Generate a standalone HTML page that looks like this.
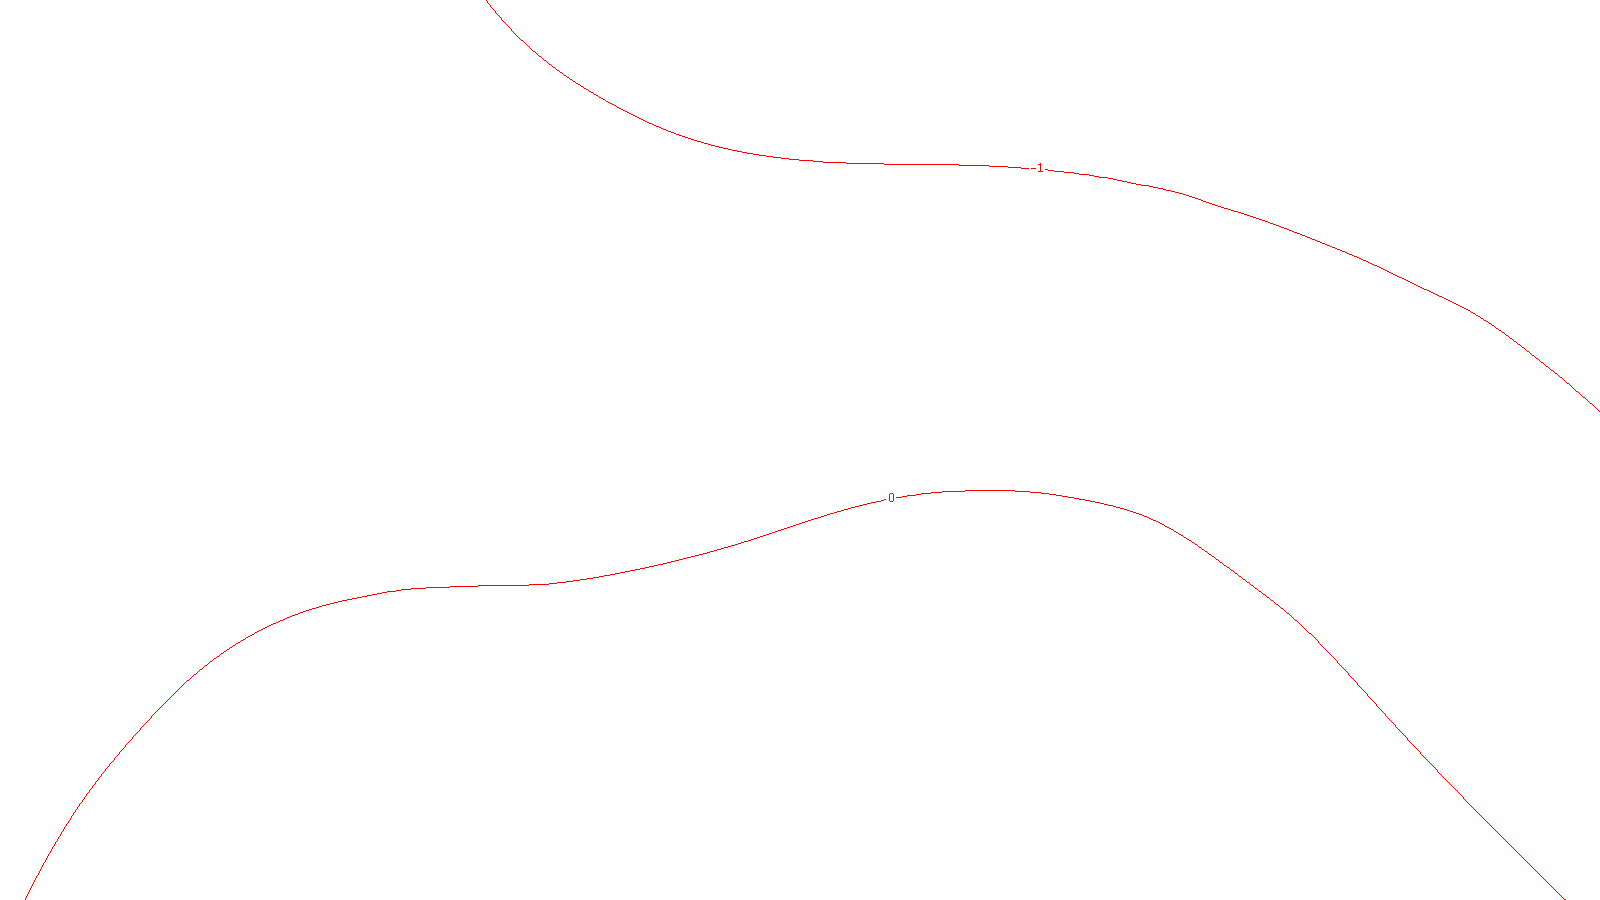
<!DOCTYPE html>
<html><head><meta charset="utf-8"><title>contour</title>
<style>
html,body{margin:0;padding:0;background:#fff;overflow:hidden}
svg{display:block}
text{font-family:"Liberation Sans",sans-serif;font-size:12px;fill:#f00}
</style></head><body>
<svg width="1600" height="900" viewBox="0 0 1600 900">
<defs><filter id="crisp" filterUnits="userSpaceOnUse" x="0" y="0" width="1600" height="900" color-interpolation-filters="sRGB"><feComponentTransfer><feFuncA type="discrete" tableValues="0 1"/></feComponentTransfer></filter></defs>
<rect width="1600" height="900" fill="#fff"/>
<g fill="none" stroke="#f00" stroke-width="1" shape-rendering="crispEdges">
<path d="M486.5 0 v1M487.5 1 v2M488.5 3 v1M489.5 4 v1M490.5 5 v2M491.5 7 v1M492.5 8 v1M493.5 9 v1M494.5 10 v1M495.5 11 v2M496.5 13 v1M497.5 14 v1M498.5 15 v1M499.5 16 v1M500.5 17 v1M501.5 18 v2M502.5 20 v1M503.5 21 v1M504.5 22 v1M505.5 23 v1M506.5 24 v1M507.5 25 v1M508.5 26 v1M509.5 27 v1M510.5 28 v1M511.5 29 v2M512.5 31 v1M513.5 32 v1M514.5 33 v1M515.5 34 v1M516.5 35 v1M517.5 36 v1M518.5 37 v1M519.5 38 v1M520.5 39 v1M521 40.5 h2M523.5 41 v1M524.5 42 v1M525.5 43 v1M526.5 44 v1M527.5 45 v1M528.5 46 v1M529.5 47 v1M530.5 48 v1M531.5 49 v1M532.5 50 v1M533 51.5 h2M535.5 52 v1M536.5 53 v1M537.5 54 v1M538.5 55 v1M539 56.5 h2M541.5 57 v1M542.5 58 v1M543.5 59 v1M544 60.5 h2M546.5 61 v1M547.5 62 v1M548.5 63 v1M549 64.5 h2M551.5 65 v1M552.5 66 v1M553 67.5 h2M555.5 68 v1M556.5 69 v1M557 70.5 h2M559.5 71 v1M560 72.5 h2M562.5 73 v1M563.5 74 v1M564 75.5 h2M566.5 76 v1M567 77.5 h2M569.5 78 v1M570 79.5 h2M572.5 80 v1M573 81.5 h2M575.5 82 v1M576 83.5 h2M578 84.5 h2M580.5 85 v1M581 86.5 h2M583.5 87 v1M584 88.5 h2M586 89.5 h2M588.5 90 v1M589 91.5 h2M591 92.5 h2M593.5 93 v1M594 94.5 h2M596 95.5 h2M598.5 96 v1M599 97.5 h2M601 98.5 h2M603 99.5 h2M605.5 100 v1M606 101.5 h2M608 102.5 h2M610 103.5 h2M612 104.5 h2M614 105.5 h2M616.5 106 v1M617 107.5 h2M619 108.5 h2M621 109.5 h2M623 110.5 h2M625 111.5 h2M627 112.5 h2M629 113.5 h2M631 114.5 h2M633 115.5 h2M635 116.5 h2M637 117.5 h2M639 118.5 h2M641 119.5 h2M643 120.5 h2M645 121.5 h2M647 122.5 h2M649 123.5 h3M652 124.5 h2M654 125.5 h2M656 126.5 h3M659 127.5 h2M661 128.5 h2M663 129.5 h3M666 130.5 h2M668 131.5 h3M671 132.5 h3M674 133.5 h2M676 134.5 h3M679 135.5 h3M682 136.5 h3M685 137.5 h3M688 138.5 h3M691 139.5 h3M694 140.5 h3M697 141.5 h4M701 142.5 h3M704 143.5 h4M708 144.5 h3M711 145.5 h4M715 146.5 h4M719 147.5 h4M723 148.5 h5M728 149.5 h4M732 150.5 h5M737 151.5 h5M742 152.5 h5M747 153.5 h6M753 154.5 h6M759 155.5 h7M766 156.5 h7M773 157.5 h8M781 158.5 h8M789 159.5 h10M799 160.5 h14M813 161.5 h10M823 162.5 h23M846 163.5 h38M884 164.5 h75M959 165.5 h30M989 166.5 h19M1008 167.5 h13M1021 168.5 h8M1045 169.5 h3M1048 170.5 h6M1054 171.5 h10M1064 172.5 h10M1074 173.5 h5M1079 174.5 h10M1089 175.5 h5M1094 176.5 h5M1099 177.5 h9M1108 178.5 h5M1113 179.5 h4M1117 180.5 h5M1122 181.5 h5M1127 182.5 h4M1131 183.5 h5M1136 184.5 h5M1141 185.5 h8M1149 186.5 h4M1153 187.5 h5M1158 188.5 h5M1163 189.5 h3M1166 190.5 h5M1171 191.5 h4M1175 192.5 h4M1179 193.5 h4M1183 194.5 h3M1186 195.5 h3M1189 196.5 h3M1192 197.5 h3M1195 198.5 h3M1198 199.5 h3M1201 200.5 h2M1203 201.5 h3M1206 202.5 h3M1209 203.5 h3M1212 204.5 h3M1215 205.5 h3M1218 206.5 h3M1221 207.5 h3M1224 208.5 h4M1228 209.5 h3M1231 210.5 h3M1234 211.5 h4M1238 212.5 h3M1241 213.5 h3M1244 214.5 h3M1247 215.5 h3M1250 216.5 h3M1253 217.5 h3M1256 218.5 h3M1259 219.5 h3M1262 220.5 h3M1265 221.5 h3M1268 222.5 h2M1270 223.5 h3M1273 224.5 h3M1276 225.5 h3M1279 226.5 h2M1281 227.5 h3M1284 228.5 h3M1287 229.5 h2M1289 230.5 h3M1292 231.5 h2M1294 232.5 h3M1297 233.5 h3M1300 234.5 h2M1302 235.5 h3M1305 236.5 h2M1307 237.5 h3M1310 238.5 h2M1312 239.5 h3M1315 240.5 h2M1317 241.5 h3M1320 242.5 h2M1322 243.5 h3M1325 244.5 h2M1327 245.5 h3M1330 246.5 h2M1332 247.5 h3M1335 248.5 h2M1337 249.5 h3M1340 250.5 h2M1342 251.5 h3M1345 252.5 h2M1347 253.5 h2M1349 254.5 h3M1352 255.5 h2M1354 256.5 h3M1357 257.5 h2M1359 258.5 h2M1361 259.5 h2M1363 260.5 h3M1366 261.5 h2M1368 262.5 h2M1370 263.5 h2M1372 264.5 h2M1374 265.5 h3M1377 266.5 h2M1379 267.5 h2M1381 268.5 h2M1383 269.5 h2M1385 270.5 h2M1387 271.5 h2M1389 272.5 h2M1391 273.5 h2M1393 274.5 h2M1395 275.5 h2M1397 276.5 h2M1399 277.5 h3M1402 278.5 h2M1404 279.5 h2M1406 280.5 h2M1408 281.5 h2M1410 282.5 h2M1412 283.5 h2M1414 284.5 h2M1416 285.5 h2M1418 286.5 h2M1420 287.5 h2M1422 288.5 h2M1424 289.5 h3M1427 290.5 h2M1429 291.5 h2M1431 292.5 h2M1433 293.5 h2M1435 294.5 h2M1437 295.5 h2M1439 296.5 h3M1442 297.5 h2M1444 298.5 h2M1446 299.5 h2M1448 300.5 h2M1450 301.5 h2M1452 302.5 h2M1454 303.5 h2M1456 304.5 h2M1458 305.5 h2M1460 306.5 h2M1462 307.5 h2M1464 308.5 h2M1466 309.5 h2M1468 310.5 h2M1470.5 311 v1M1471 312.5 h2M1473 313.5 h2M1475.5 314 v1M1476 315.5 h2M1478 316.5 h2M1480.5 317 v1M1481 318.5 h2M1483.5 319 v1M1484 320.5 h2M1486 321.5 h2M1488.5 322 v1M1489 323.5 h2M1491.5 324 v1M1492 325.5 h2M1494.5 326 v1M1495.5 327 v1M1496 328.5 h2M1498.5 329 v1M1499 330.5 h2M1501.5 331 v1M1502 332.5 h2M1504.5 333 v1M1505.5 334 v1M1506 335.5 h2M1508.5 336 v1M1509.5 337 v1M1510 338.5 h2M1512.5 339 v1M1513.5 340 v1M1514 341.5 h2M1516.5 342 v1M1517.5 343 v1M1518 344.5 h2M1520.5 345 v1M1521.5 346 v1M1522 347.5 h2M1524.5 348 v1M1525.5 349 v1M1526.5 350 v1M1527 351.5 h2M1529.5 352 v1M1530.5 353 v1M1531.5 354 v1M1532 355.5 h2M1534.5 356 v1M1535.5 357 v1M1536 358.5 h2M1538.5 359 v1M1539.5 360 v1M1540.5 361 v1M1541 362.5 h2M1543.5 363 v1M1544.5 364 v1M1545.5 365 v1M1546 366.5 h2M1548.5 367 v1M1549.5 368 v1M1550.5 369 v1M1551 370.5 h2M1553.5 371 v1M1554.5 372 v1M1555 373.5 h2M1557.5 374 v1M1558.5 375 v1M1559.5 376 v1M1560 377.5 h2M1562.5 378 v1M1563.5 379 v1M1564.5 380 v1M1565.5 381 v1M1566.5 382 v1M1567 383.5 h2M1569.5 384 v1M1570.5 385 v1M1571.5 386 v1M1572.5 387 v1M1573.5 388 v1M1574.5 389 v1M1575.5 390 v1M1576 391.5 h2M1578.5 392 v1M1579.5 393 v1M1580.5 394 v1M1581.5 395 v1M1582.5 396 v1M1583 397.5 h2M1585.5 398 v1M1586.5 399 v1M1587.5 400 v1M1588.5 401 v1M1589.5 402 v1M1590 403.5 h2M1592.5 404 v1M1593.5 405 v1M1594.5 406 v1M1595.5 407 v1M1596.5 408 v1M1597.5 409 v1M1598.5 410 v1M1599.5 411 v1"/>
<path d="M25.5 898 v2M26.5 896 v2M27.5 894 v2M28.5 892 v2M29.5 890 v2M30.5 888 v2M31.5 886 v2M32.5 884 v2M33.5 882 v2M34.5 880 v2M35.5 878 v2M36.5 876 v2M37.5 875 v1M38.5 873 v2M39.5 871 v2M40.5 869 v2M41.5 867 v2M42.5 865 v2M43.5 863 v2M44.5 862 v1M45.5 860 v2M46.5 858 v2M47.5 856 v2M48.5 854 v2M49.5 853 v1M50.5 851 v2M51.5 849 v2M52.5 847 v2M53.5 846 v1M54.5 844 v2M55.5 842 v2M56.5 841 v1M57.5 839 v2M58.5 837 v2M59.5 836 v1M60.5 834 v2M61.5 832 v2M62.5 831 v1M63.5 829 v2M64.5 827 v2M65.5 826 v1M66.5 824 v2M67.5 823 v1M68.5 821 v2M69.5 820 v1M70.5 818 v2M71.5 816 v2M72.5 815 v1M73.5 813 v2M74.5 812 v1M75.5 810 v2M76.5 809 v1M77.5 807 v2M78.5 806 v1M79.5 804 v2M80.5 803 v1M81.5 802 v1M82.5 800 v2M83.5 799 v1M84.5 797 v2M85.5 796 v1M86.5 794 v2M87.5 793 v1M88.5 792 v1M89.5 790 v2M90.5 789 v1M91.5 788 v1M92.5 786 v2M93.5 785 v1M94.5 784 v1M95.5 782 v2M96.5 781 v1M97.5 780 v1M98.5 778 v2M99.5 777 v1M100.5 776 v1M101.5 774 v2M102.5 773 v1M103.5 772 v1M104.5 771 v1M105.5 769 v2M106.5 768 v1M107.5 767 v1M108.5 766 v1M109.5 764 v2M110.5 763 v1M111.5 762 v1M112.5 761 v1M113.5 760 v1M114.5 758 v2M115.5 757 v1M116.5 756 v1M117.5 755 v1M118.5 754 v1M119.5 752 v2M120.5 751 v1M121.5 750 v1M122.5 749 v1M123.5 748 v1M124.5 747 v1M125.5 745 v2M126.5 744 v1M127.5 743 v1M128.5 742 v1M129.5 741 v1M130.5 740 v1M131.5 739 v1M132.5 737 v2M133.5 736 v1M134.5 735 v1M135.5 734 v1M136.5 733 v1M137.5 732 v1M138.5 731 v1M139.5 730 v1M140.5 728 v2M141.5 727 v1M142.5 726 v1M143.5 725 v1M144.5 724 v1M145.5 723 v1M146.5 722 v1M147.5 721 v1M148.5 720 v1M149.5 719 v1M150.5 718 v1M151.5 716 v2M152.5 715 v1M153.5 714 v1M154.5 713 v1M155.5 712 v1M156.5 711 v1M157.5 710 v1M158.5 709 v1M159.5 708 v1M160.5 707 v1M161.5 706 v1M162.5 705 v1M163.5 704 v1M164.5 703 v1M165.5 702 v1M166.5 701 v1M167.5 700 v1M168.5 699 v1M169.5 698 v1M170.5 697 v1M171.5 696 v1M172.5 695 v1M173.5 694 v1M174.5 693 v1M175.5 692 v1M176.5 691 v1M177.5 690 v1M178.5 689 v1M179.5 688 v1M180.5 687 v1M181.5 686 v1M182.5 685 v1M183.5 684 v1M184.5 683 v1M185.5 682 v1M186.5 681 v1M187 680.5 h2M189.5 679 v1M190.5 678 v1M191.5 677 v1M192.5 676 v1M193.5 675 v1M194 674.5 h2M196.5 673 v1M197.5 672 v1M198.5 671 v1M199.5 670 v1M200 669.5 h2M202.5 668 v1M203.5 667 v1M204.5 666 v1M205 665.5 h2M207.5 664 v1M208.5 663 v1M209.5 662 v1M210 661.5 h2M212.5 660 v1M213.5 659 v1M214 658.5 h2M216.5 657 v1M217 656.5 h2M219.5 655 v1M220.5 654 v1M221 653.5 h2M223.5 652 v1M224 651.5 h2M226.5 650 v1M227 649.5 h2M229.5 648 v1M230 647.5 h2M232.5 646 v1M233 645.5 h2M235.5 644 v1M236 643.5 h2M238 642.5 h2M240.5 641 v1M241 640.5 h2M243 639.5 h2M245.5 638 v1M246 637.5 h2M248 636.5 h2M250 635.5 h2M252 634.5 h2M254.5 633 v1M255 632.5 h2M257 631.5 h2M259 630.5 h2M261 629.5 h2M263 628.5 h2M265 627.5 h2M267 626.5 h2M269 625.5 h2M271 624.5 h2M273 623.5 h3M276 622.5 h2M278 621.5 h2M280 620.5 h3M283 619.5 h2M285 618.5 h2M287 617.5 h3M290 616.5 h2M292 615.5 h3M295 614.5 h3M298 613.5 h2M300 612.5 h3M303 611.5 h3M306 610.5 h3M309 609.5 h3M312 608.5 h4M316 607.5 h3M319 606.5 h3M322 605.5 h4M326 604.5 h4M330 603.5 h4M334 602.5 h4M338 601.5 h4M342 600.5 h5M347 599.5 h5M352 598.5 h5M357 597.5 h5M362 596.5 h5M367 595.5 h5M372 594.5 h5M377 593.5 h5M382 592.5 h5M387 591.5 h9M396 590.5 h5M401 589.5 h10M411 588.5 h15M426 587.5 h24M450 586.5 h28M478 585.5 h51M529 584.5 h20M549 583.5 h8M557 582.5 h9M566 581.5 h7M573 580.5 h7M580 579.5 h7M587 578.5 h6M593 577.5 h6M599 576.5 h5M604 575.5 h6M610 574.5 h5M615 573.5 h5M620 572.5 h5M625 571.5 h5M630 570.5 h5M635 569.5 h5M640 568.5 h5M645 567.5 h4M649 566.5 h5M654 565.5 h4M658 564.5 h5M663 563.5 h4M667 562.5 h4M671 561.5 h4M675 560.5 h4M679 559.5 h4M683 558.5 h4M687 557.5 h4M691 556.5 h4M695 555.5 h4M699 554.5 h4M703 553.5 h4M707 552.5 h3M710 551.5 h4M714 550.5 h3M717 549.5 h4M721 548.5 h3M724 547.5 h4M728 546.5 h3M731 545.5 h4M735 544.5 h3M738 543.5 h3M741 542.5 h3M744 541.5 h4M748 540.5 h3M751 539.5 h3M754 538.5 h3M757 537.5 h3M760 536.5 h3M763 535.5 h3M766 534.5 h3M769 533.5 h3M772 532.5 h3M775 531.5 h3M778 530.5 h3M781 529.5 h3M784 528.5 h3M787 527.5 h3M790 526.5 h3M793 525.5 h3M796 524.5 h3M799 523.5 h3M802 522.5 h3M805 521.5 h3M808 520.5 h3M811 519.5 h3M814 518.5 h4M818 517.5 h3M821 516.5 h3M824 515.5 h3M827 514.5 h3M830 513.5 h4M834 512.5 h3M837 511.5 h4M841 510.5 h3M844 509.5 h4M848 508.5 h3M851 507.5 h4M855 506.5 h4M859 505.5 h4M863 504.5 h4M867 503.5 h4M871 502.5 h5M876 501.5 h5M881 500.5 h3M884 499.5 h2M896 497.5 h6M902 496.5 h5M907 495.5 h9M916 494.5 h5M921 493.5 h10M931 492.5 h11M942 491.5 h23M965 490.5 h50M1015 491.5 h15M1030 492.5 h11M1041 493.5 h8M1049 494.5 h7M1056 495.5 h6M1062 496.5 h6M1068 497.5 h6M1074 498.5 h5M1079 499.5 h6M1085 500.5 h5M1090 501.5 h5M1095 502.5 h5M1100 503.5 h4M1104 504.5 h4M1108 505.5 h5M1113 506.5 h3M1116 507.5 h4M1120 508.5 h4M1124 509.5 h3M1127 510.5 h3M1130 511.5 h3M1133 512.5 h3M1136 513.5 h3M1139 514.5 h3M1142 515.5 h2M1144 516.5 h3M1147 517.5 h2M1149 518.5 h2M1151 519.5 h2M1153 520.5 h3M1156 521.5 h2M1158 522.5 h2M1160 523.5 h2M1162 524.5 h2M1164.5 525 v1M1165 526.5 h2M1167 527.5 h2M1169 528.5 h2M1171 529.5 h2M1173.5 530 v1M1174 531.5 h2M1176 532.5 h2M1178.5 533 v1M1179 534.5 h2M1181 535.5 h2M1183.5 536 v1M1184 537.5 h2M1186.5 538 v1M1187 539.5 h2M1189 540.5 h2M1191.5 541 v1M1192 542.5 h2M1194.5 543 v1M1195 544.5 h2M1197.5 545 v1M1198.5 546 v1M1199 547.5 h2M1201.5 548 v1M1202 549.5 h2M1204.5 550 v1M1205 551.5 h2M1207.5 552 v1M1208.5 553 v1M1209 554.5 h2M1211.5 555 v1M1212 556.5 h2M1214.5 557 v1M1215.5 558 v1M1216 559.5 h2M1218.5 560 v1M1219.5 561 v1M1220 562.5 h2M1222.5 563 v1M1223.5 564 v1M1224 565.5 h2M1226.5 566 v1M1227 567.5 h2M1229.5 568 v1M1230.5 569 v1M1231 570.5 h2M1233.5 571 v1M1234.5 572 v1M1235 573.5 h2M1237.5 574 v1M1238.5 575 v1M1239 576.5 h2M1241.5 577 v1M1242.5 578 v1M1243 579.5 h2M1245.5 580 v1M1246.5 581 v1M1247 582.5 h2M1249.5 583 v1M1250.5 584 v1M1251 585.5 h2M1253.5 586 v1M1254.5 587 v1M1255 588.5 h2M1257.5 589 v1M1258.5 590 v1M1259 591.5 h2M1261.5 592 v1M1262.5 593 v1M1263 594.5 h2M1265.5 595 v1M1266.5 596 v1M1267 597.5 h2M1269.5 598 v1M1270.5 599 v1M1271 600.5 h2M1273.5 601 v1M1274.5 602 v1M1275.5 603 v1M1276 604.5 h2M1278.5 605 v1M1279.5 606 v1M1280.5 607 v1M1281 608.5 h2M1283.5 609 v1M1284.5 610 v1M1285.5 611 v1M1286.5 612 v1M1287 613.5 h2M1289.5 614 v1M1290.5 615 v1M1291.5 616 v1M1292.5 617 v1M1293.5 618 v1M1294.5 619 v1M1295 620.5 h2M1297.5 621 v1M1298.5 622 v1M1299.5 623 v1M1300.5 624 v1M1301.5 625 v1M1302.5 626 v1M1303.5 627 v1M1304.5 628 v1M1305.5 629 v1M1306.5 630 v1M1307.5 631 v1M1308.5 632 v1M1309 633.5 h2M1311.5 634 v1M1312.5 635 v1M1313.5 636 v1M1314.5 637 v1M1315.5 638 v1M1316.5 639 v1M1317.5 640 v1M1318.5 641 v2M1319.5 643 v1M1320.5 644 v1M1321.5 645 v1M1322.5 646 v1M1323.5 647 v1M1324.5 648 v1M1325.5 649 v1M1326.5 650 v1M1327.5 651 v1M1328.5 652 v1M1329.5 653 v1M1330.5 654 v1M1331.5 655 v1M1332.5 656 v1M1333.5 657 v1M1334.5 658 v1M1335.5 659 v1M1336.5 660 v1M1337.5 661 v2M1338.5 663 v1M1339.5 664 v1M1340.5 665 v1M1341.5 666 v1M1342.5 667 v1M1343.5 668 v1M1344.5 669 v1M1345.5 670 v1M1346.5 671 v1M1347.5 672 v1M1348.5 673 v2M1349.5 675 v1M1350.5 676 v1M1351.5 677 v1M1352.5 678 v1M1353.5 679 v1M1354.5 680 v1M1355.5 681 v1M1356.5 682 v1M1357.5 683 v2M1358.5 685 v1M1359.5 686 v1M1360.5 687 v1M1361.5 688 v1M1362.5 689 v1M1363.5 690 v1M1364.5 691 v1M1365.5 692 v1M1366.5 693 v1M1367.5 694 v2M1368.5 696 v1M1369.5 697 v1M1370.5 698 v1M1371.5 699 v1M1372.5 700 v1M1373.5 701 v1M1374.5 702 v1M1375.5 703 v1M1376.5 704 v2M1377.5 706 v1M1378.5 707 v1M1379.5 708 v1M1380.5 709 v1M1381.5 710 v1M1382.5 711 v1M1383.5 712 v1M1384.5 713 v1M1385.5 714 v2M1386.5 716 v1M1387.5 717 v1M1388.5 718 v1M1389.5 719 v1M1390.5 720 v1M1391.5 721 v1M1392.5 722 v1M1393.5 723 v1M1394.5 724 v1M1395.5 725 v2M1396.5 727 v1M1397.5 728 v1M1398.5 729 v1M1399.5 730 v1M1400.5 731 v1M1401.5 732 v1M1402.5 733 v1M1403.5 734 v1M1404.5 735 v1M1405.5 736 v1M1406.5 737 v1M1407.5 738 v2M1408.5 740 v1M1409.5 741 v1M1410.5 742 v1M1411.5 743 v1M1412.5 744 v1M1413.5 745 v1M1414.5 746 v1M1415.5 747 v1M1416.5 748 v1M1417.5 749 v1M1418.5 750 v1M1419.5 751 v1M1420.5 752 v2M1421.5 754 v1M1422.5 755 v1M1423.5 756 v1M1424.5 757 v1M1425.5 758 v1M1426.5 759 v1M1427.5 760 v1M1428.5 761 v1M1429.5 762 v1M1430.5 763 v1M1431.5 764 v1M1432.5 765 v1M1433.5 766 v1M1434.5 767 v1M1435.5 768 v1M1436.5 769 v1M1437.5 770 v2M1438.5 772 v1M1439.5 773 v1M1440.5 774 v1M1441.5 775 v1M1442.5 776 v1M1443.5 777 v1M1444.5 778 v1M1445.5 779 v1M1446.5 780 v1M1447.5 781 v1M1448.5 782 v1M1449.5 783 v1M1450.5 784 v1M1451.5 785 v1M1452.5 786 v1M1453.5 787 v1M1454.5 788 v1M1455.5 789 v1M1456.5 790 v1M1457.5 791 v1M1458.5 792 v1M1459.5 793 v1M1460.5 794 v1M1461.5 795 v1M1462.5 796 v1M1463.5 797 v2M1464.5 799 v1M1465.5 800 v1M1466.5 801 v1M1467.5 802 v1M1468.5 803 v1M1469.5 804 v1M1470.5 805 v1M1471.5 806 v1M1472.5 807 v1M1473.5 808 v1M1474.5 809 v1M1475.5 810 v1M1476.5 811 v1M1477.5 812 v1M1478.5 813 v1M1479.5 814 v1M1480.5 815 v1M1481.5 816 v1M1482.5 817 v1M1483.5 818 v1M1484.5 819 v1M1485.5 820 v1M1486.5 821 v1M1487.5 822 v1M1488.5 823 v1M1489.5 824 v1M1490.5 825 v1M1491.5 826 v1M1492.5 827 v1M1493.5 828 v1M1494.5 829 v1M1495.5 830 v1M1496.5 831 v1M1497.5 832 v1M1498.5 833 v1M1499.5 834 v1M1500.5 835 v1M1501.5 836 v1M1502.5 837 v1M1503.5 838 v1M1504.5 839 v1M1505.5 840 v1M1506.5 841 v1M1507.5 842 v1M1508.5 843 v1M1509.5 844 v1M1510.5 845 v1M1511.5 846 v1M1512.5 847 v1M1513.5 848 v1M1514.5 849 v1M1515.5 850 v1M1516.5 851 v1M1517.5 852 v1M1518.5 853 v1M1519.5 854 v1M1520.5 855 v1M1521.5 856 v1M1522.5 857 v1M1523.5 858 v1M1524.5 859 v1M1525.5 860 v1M1526.5 861 v1M1527.5 862 v1M1528.5 863 v1M1529.5 864 v1M1530.5 865 v1M1531.5 866 v1M1532.5 867 v1M1533.5 868 v1M1534.5 869 v1M1535.5 870 v1M1536.5 871 v1M1537.5 872 v1M1538.5 873 v1M1539.5 874 v1M1540.5 875 v1M1541.5 876 v1M1542.5 877 v1M1543.5 878 v1M1544.5 879 v1M1545.5 880 v1M1546.5 881 v1M1547.5 882 v1M1548.5 883 v1M1549.5 884 v1M1550.5 885 v1M1551.5 886 v1M1552.5 887 v1M1553.5 888 v1M1554.5 889 v1M1555.5 890 v1M1556.5 891 v1M1557.5 892 v1M1558.5 893 v1M1559.5 894 v1M1560.5 895 v1M1561.5 896 v1M1562.5 897 v1M1563.5 898 v1M1564 899.5 h2"/>
</g>
<g filter="url(#crisp)">
<text transform="translate(1037.22,171.94) scale(.95,1)" style="font-size:12px"><tspan x="-7.44" y="0" textLength="7.25" lengthAdjust="spacingAndGlyphs">-</tspan><tspan x="0" y="0">1</tspan></text>
<text x="887.97" y="501.94" style="font-size:12.5px">0</text>
</g>
</svg>
</body></html>
